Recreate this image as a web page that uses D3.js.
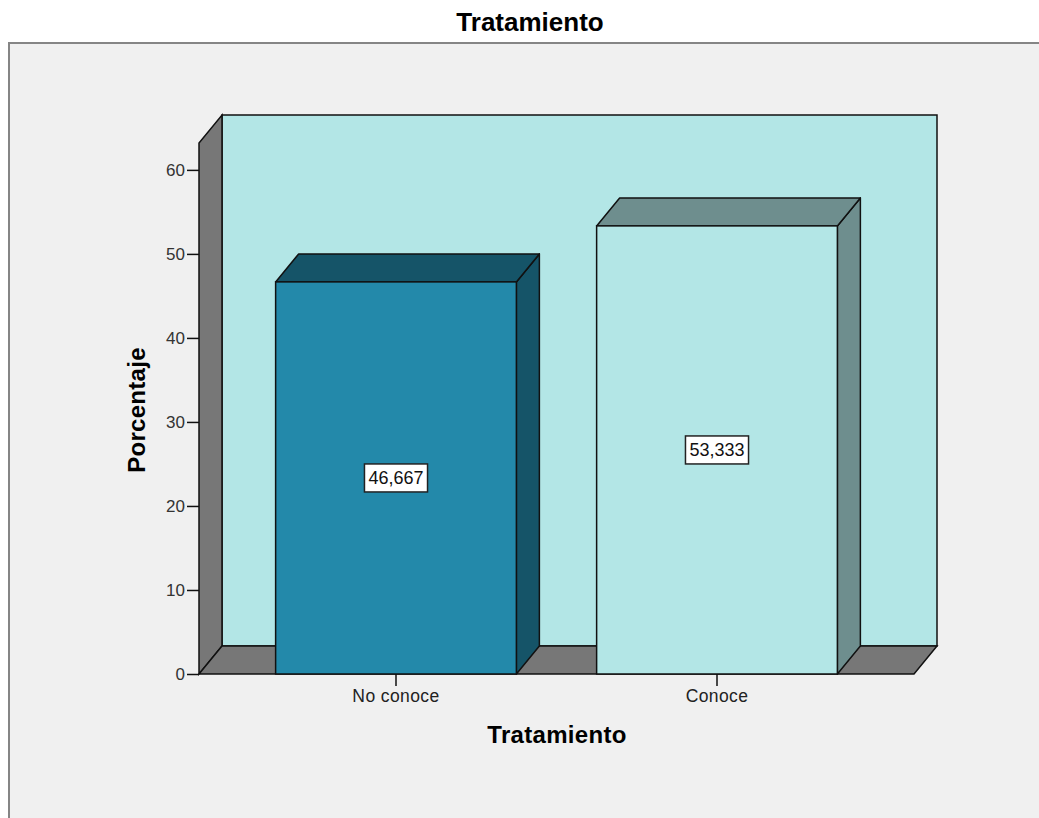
<!DOCTYPE html>
<html>
<head>
<meta charset="utf-8">
<script src="https://cdn.jsdelivr.net/npm/d3@7"></script>
<style>
  html, body { margin: 0; padding: 0; background: #ffffff; }
  svg { display: block; font-family: Arial, "Liberation Sans", sans-serif; }
</style>
</head>
<body>
<svg id="chart" width="1039" height="818"></svg>
<script>
// Data
const categories = ["No conoce", "Conoce"];
const values = [46.667, 53.333];
const valueLabels = ["46,667", "53,333"];
const yTicks = [0, 10, 20, 30, 40, 50, 60];
const chartTitle = "Tratamiento";
const xTitle = "Tratamiento";
const yTitle = "Porcentaje";

const frontColors = ["#2389aa", "#b3e6e6"];
const shadeColors = ["#155468", "#6e8e8e"];

(function () {
const svg = d3.select("#chart");
const W = 1039, H = 818;
const FONT = "Arial, 'Liberation Sans', sans-serif";

// Plot geometry (front plane) and 3D depth offset
const plotLeft = 199, plotRight = 914, plotBottom = 674, plotTop = 143;
const dx = 23, dy = -28;
const yMax = 63.2;

const x = d3.scaleBand().domain(categories).range([plotLeft, plotRight])
  .paddingInner(0.25).paddingOuter(0.2387);
const y = d3.scaleLinear().domain([0, yMax]).range([plotBottom, plotTop]);

// Panel frame
svg.append("rect").attr("x", 0).attr("y", 0).attr("width", W).attr("height", H).attr("fill", "#ffffff");
svg.append("rect").attr("x", 9).attr("y", 43).attr("width", W + 20).attr("height", H)
  .attr("fill", "#f0f0f0").attr("stroke", "#858585").attr("stroke-width", 2);

// Title
svg.append("text").attr("x", 530).attr("y", 31).attr("text-anchor", "middle")
  .attr("font-size", 26).attr("font-weight", "bold").attr("fill", "#000").text(chartTitle);

const line = d3.line();
const poly = pts => line(pts) + "Z";

// Back wall
svg.append("path")
  .attr("d", poly([[plotLeft + dx, y(yMax) + dy], [plotRight + dx, y(yMax) + dy], [plotRight + dx, plotBottom + dy], [plotLeft + dx, plotBottom + dy]]))
  .attr("fill", "#b3e6e6").attr("stroke", "#111").attr("stroke-width", 1.5);

// Left side wall
svg.append("path")
  .attr("d", poly([[plotLeft, plotBottom], [plotLeft, y(yMax)], [plotLeft + dx, y(yMax) + dy], [plotLeft + dx, plotBottom + dy]]))
  .attr("fill", "#777777").attr("stroke", "#111").attr("stroke-width", 1.5);

// Floor
svg.append("path")
  .attr("d", poly([[plotLeft, plotBottom], [plotRight, plotBottom], [plotRight + dx, plotBottom + dy], [plotLeft + dx, plotBottom + dy]]))
  .attr("fill", "#777777").attr("stroke", "#111").attr("stroke-width", 1.5);

// Bars
const bars = svg.append("g");
categories.forEach((c, i) => {
  const x0 = x(c), x1 = x(c) + x.bandwidth();
  const yt = y(values[i]);
  const g = bars.append("g");
  // side face
  g.append("path")
    .attr("d", poly([[x1, plotBottom], [x1, yt], [x1 + dx, yt + dy], [x1 + dx, plotBottom + dy]]))
    .attr("fill", shadeColors[i]).attr("stroke", "#111").attr("stroke-width", 1.5).attr("stroke-linejoin", "round");
  // top face
  g.append("path")
    .attr("d", poly([[x0, yt], [x0 + dx, yt + dy], [x1 + dx, yt + dy], [x1, yt]]))
    .attr("fill", shadeColors[i]).attr("stroke", "#111").attr("stroke-width", 1.5).attr("stroke-linejoin", "round");
  // front face
  g.append("rect").attr("x", x0).attr("y", yt).attr("width", x1 - x0).attr("height", plotBottom - yt)
    .attr("fill", frontColors[i]).attr("stroke", "#111").attr("stroke-width", 1.5);

  // value label box
  const cx = (x0 + x1) / 2, cy = y(values[i] / 2);
  const t = g.append("text").attr("x", cx).attr("y", cy + 6.5).attr("text-anchor", "middle")
    .attr("font-size", 18).attr("fill", "#111").text(valueLabels[i]);
  const bb = t.node().getBBox();
  g.insert("rect", "text").attr("x", bb.x - 4).attr("y", cy - 14).attr("width", bb.width + 8).attr("height", 28)
    .attr("fill", "#ffffff").attr("stroke", "#222").attr("stroke-width", 1.5);
});

// Y axis
const yAxis = d3.axisLeft(y).tickValues(yTicks).tickSize(12).tickPadding(2).tickSizeOuter(0);
const ya = svg.append("g").attr("transform", `translate(${plotLeft},0)`).call(yAxis);
ya.select(".domain").remove();
ya.selectAll(".tick line").attr("stroke", "#111").attr("stroke-width", 1.5);
ya.selectAll(".tick text").attr("font-size", 17).attr("fill", "#333").attr("font-family", FONT);

// X axis
const xAxis = d3.axisBottom(x).tickSize(12).tickPadding(4).tickSizeOuter(0);
const xa = svg.append("g").attr("transform", `translate(0,${plotBottom})`).call(xAxis);
xa.select(".domain").remove();
xa.selectAll(".tick line").attr("stroke", "#111").attr("stroke-width", 1.5);
xa.selectAll(".tick text").attr("font-size", 17.5).attr("letter-spacing", 0.4)
  .attr("fill", "#222").attr("font-family", FONT);

// Axis titles
svg.append("text").attr("x", 557).attr("y", 743).attr("text-anchor", "middle")
  .attr("font-size", 24).attr("font-weight", "bold").attr("letter-spacing", 0.3).attr("fill", "#000").text(xTitle);
svg.append("text").attr("transform", "translate(145,410) rotate(-90)").attr("text-anchor", "middle")
  .attr("font-size", 24).attr("font-weight", "bold").attr("letter-spacing", 0.3).attr("fill", "#000").text(yTitle);
})();
</script>
</body>
</html>
